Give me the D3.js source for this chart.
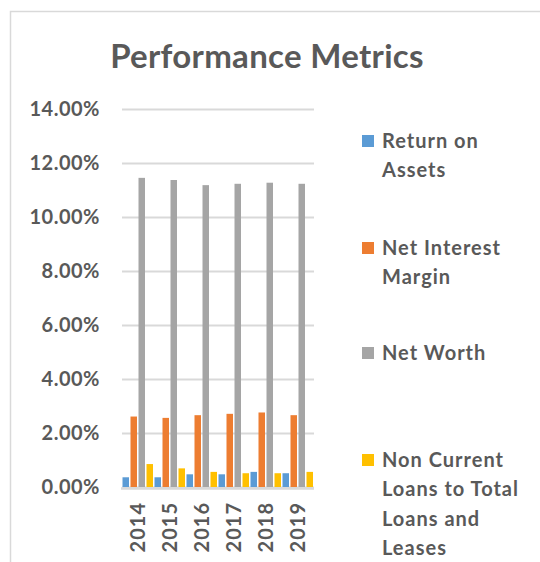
<!DOCTYPE html>
<html>
<head>
<meta charset="utf-8">
<script src="https://cdn.jsdelivr.net/npm/d3@7"></script>
<style>
  body { margin: 0; background: #fff; }
  text { font-family: Lato, "Open Sans", sans-serif; font-weight: bold; fill: #595959; }
</style>
</head>
<body>
<script>
// chart data
var years = ["2014", "2015", "2016", "2017", "2018", "2019"];
var seriesNames = ["Return on Assets", "Net Interest Margin", "Net Worth", "Non Current Loans to Total Loans and Leases"];
var returnOnAssets = [0.0036, 0.0036, 0.0047, 0.0047, 0.0056, 0.0051];
var netInterestMargin = [0.0261, 0.0256, 0.0266, 0.0271, 0.0276, 0.0266];
var netWorth = [0.1145, 0.1137, 0.1118, 0.1123, 0.1127, 0.1123];
var nonCurrentLoans = [0.0085, 0.0069, 0.0056, 0.0051, 0.0051, 0.0056];
var yTicks = [0, 0.02, 0.04, 0.06, 0.08, 0.10, 0.12, 0.14];
var colors = ["#5B9BD5", "#ED7D31", "#A5A5A5", "#FFC000"];
var legendLines = [["Return on", "Assets"], ["Net Interest", "Margin"], ["Net Worth"], ["Non Current", "Loans to Total", "Loans and", "Leases"]];

var width = 540, height = 562;
var svg = d3.select("body").append("svg").attr("width", width).attr("height", height);

// outer chart border (runs off the right and bottom)
svg.append("rect").attr("x", 10.5).attr("y", 11.5).attr("width", 700).attr("height", 700)
    .attr("fill", "none").attr("stroke", "#d9d9d9").attr("stroke-width", 1.5);

svg.append("text").attr("x", 267).attr("y", 68).attr("text-anchor", "middle")
    .style("font-size", "33px").style("letter-spacing", "0.3px").text("Performance Metrics");

var plotLeft = 122, plotRight = 314, plotTop = 109, plotBottom = 487;

var x = d3.scaleBand().domain(years).range([plotLeft, plotRight]).paddingInner(0).paddingOuter(0);
var xs = d3.scaleBand().domain(d3.range(4)).range([0, x.bandwidth()]).padding(0);
var y = d3.scaleLinear().domain([0, 0.14]).range([plotBottom, plotTop]);

// gridlines
svg.append("g").selectAll("line").data(yTicks).enter().append("line")
    .attr("x1", plotLeft).attr("x2", plotRight)
    .attr("y1", function (d) { return Math.round(y(d)) + 0.5; })
    .attr("y2", function (d) { return Math.round(y(d)) + 0.5; })
    .attr("stroke", "#d9d9d9").attr("stroke-width", 2);

// y axis labels
var yAxis = d3.axisLeft(y).tickValues(yTicks).tickFormat(d3.format(".2%")).tickSize(0).tickPadding(22);
var gy = svg.append("g").attr("transform", "translate(" + plotLeft + ",0)").call(yAxis);
gy.select(".domain").remove();
gy.selectAll("text").style("font-size", "20px").style("letter-spacing", "0.5px").attr("fill", "#595959");

// bars
var allSeries = [returnOnAssets, netInterestMargin, netWorth, nonCurrentLoans];
var rows = [];
years.forEach(function (yr, i) {
    allSeries.forEach(function (s, j) {
        rows.push({ year: yr, k: j, v: s[i] });
    });
});
svg.append("g").selectAll("rect").data(rows).enter().append("rect")
    .attr("x", function (d) { return x(d.year) + xs(d.k) + 0.5; })
    .attr("width", xs.bandwidth() - 1.5)
    .attr("y", function (d) { return y(d.v); })
    .attr("height", function (d) { return plotBottom - y(d.v); })
    .attr("fill", function (d) { return colors[d.k]; });

// base line
svg.append("line").attr("x1", plotLeft - 1).attr("x2", plotRight)
    .attr("y1", plotBottom + 1.5).attr("y2", plotBottom + 1.5)
    .attr("stroke", "#d9d9d9").attr("stroke-width", 2.5);

// x axis labels, rotated
var xAxis = d3.axisBottom(x).tickSize(0).tickPadding(0);
var gx = svg.append("g").attr("transform", "translate(0," + plotBottom + ")").call(xAxis);
gx.select(".domain").remove();
gx.selectAll("text").style("font-size", "20px").style("letter-spacing", "1px").attr("fill", "#595959")
    .attr("transform", "rotate(-90)").attr("text-anchor", "end")
    .attr("x", -15).attr("y", 0).attr("dy", "0.35em");

// legend
var legendY = [141, 248, 353, 460];
var lg = svg.append("g").selectAll("g").data(seriesNames).enter().append("g")
    .attr("transform", function (d, i) { return "translate(362," + legendY[i] + ")"; });
lg.append("rect").attr("x", 0).attr("y", -6).attr("width", 12).attr("height", 12)
    .attr("fill", function (d, i) { return colors[i]; });
lg.each(function (d, i) {
    var t = d3.select(this).append("text").attr("x", 20).attr("y", 0)
        .style("font-size", "20px").style("letter-spacing", "1px");
    legendLines[i].forEach(function (line, k) {
        t.append("tspan").attr("x", 20).attr("y", k * 29.3).attr("dy", "0.35em").text(line);
    });
});
</script>
</body>
</html>
